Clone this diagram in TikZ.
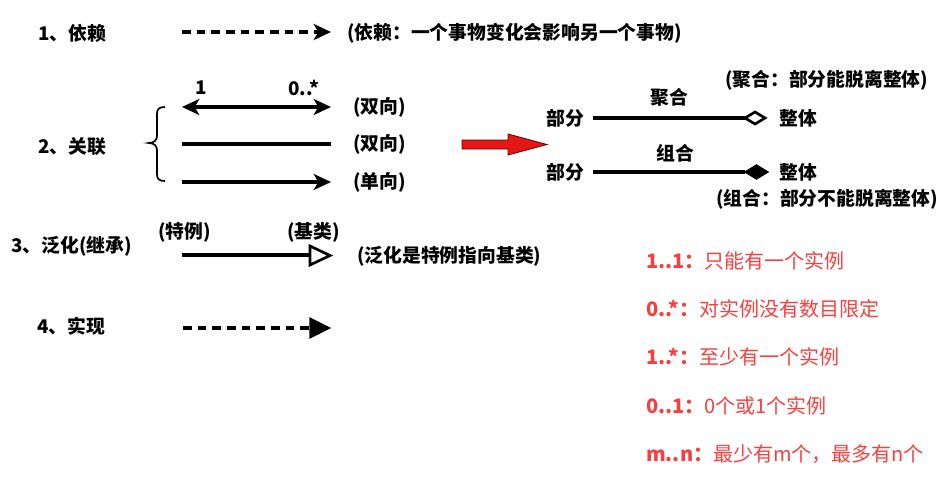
\documentclass[tikz,border=0pt]{standalone}
\usepackage{fontspec}
\setmainfont{Noto Sans CJK SC}
\usetikzlibrary{arrows.meta}
\definecolor{redtxt}{RGB}{250,62,62}
\definecolor{redfill}{RGB}{228,22,22}
\begin{document}
\begin{tikzpicture}[x=0.75pt,y=-0.75pt,
  lbl/.style={inner sep=0pt,anchor=west,font=\fontsize{14.1}{16}\selectfont\bfseries},
  redlbl/.style={inner sep=0pt,anchor=west,text=redtxt,font=\fontsize{15}{18}\selectfont},
  conn/.style={line width=2.4pt,black},
  dashconn/.style={conn,dash pattern=on 6.5pt off 4.5pt},
  tip/.style={-{Stealth[length=13pt,width=12pt,inset=3.5pt]}},
  bitip/.style={{Stealth[length=13pt,width=12pt,inset=3.5pt]}-{Stealth[length=13pt,width=12pt,inset=3.5pt]}}
]
\useasboundingbox (0,0) rectangle (939,476);

% 1 dependency
\node[lbl] (t1) at (38,33) {1、依赖};
\coordinate (d1a) at (182,32);
\coordinate (d1b) at (331,32);
\draw[dashconn,tip] (d1a) -- (d1b);
\node[lbl] (t1d) at (347,33) {(依赖：一个事物变化会影响另一个事物)};

% 2 association
\node[lbl] (t2) at (38,146) {2、关联};
\draw[line width=1.3pt] (165,107) .. controls (159,107) and (157,109) .. (157,114) -- (157,136) .. controls (157,140) and (154,143) .. (149,143) .. controls (154,143) and (157,146) .. (157,150) -- (157,174) .. controls (157,179) and (159,181) .. (165,181);
\node[lbl] (m1) at (195,88) {1};
\node[lbl] (m2) at (288,88) {0..*};
\coordinate (a1a) at (182,107);
\coordinate (a1b) at (331,107);
\draw[conn,bitip] (a1a) -- (a1b);
\node[lbl] (a1t) at (353,107) {(双向)};
\coordinate (a2a) at (182,144);
\coordinate (a2b) at (331,144);
\draw[conn] (a2a) -- (a2b);
\node[lbl] (a2t) at (353,144) {(双向)};
\coordinate (a3a) at (182,182);
\coordinate (a3b) at (331,182);
\draw[conn,tip] (a3a) -- (a3b);
\node[lbl] (a3t) at (353,182) {(单向)};

% red block arrow
\draw[fill=redfill,draw=black!60!red,line width=0.6pt] (462,140) -- (508,140) -- (508,134) -- (547,144.5) -- (508,155) -- (508,149) -- (462,149) -- cycle;

% aggregation / composition
\node[lbl] (ag) at (650,97) {聚合};
\node[lbl] (agd) at (725,80) {(聚合：部分能脱离整体)};
\node[lbl] (p1) at (546,118) {部分};
\node[lbl] (w1) at (779,118) {整体};
\coordinate (g1a) at (593,118);
\coordinate (g1b) at (745,118);
\draw[conn] (g1a) -- (g1b);
\draw[line width=2pt,fill=white] (745,118) -- (755,112) -- (765,118) -- (755,124) -- cycle;
\node[lbl] (cp) at (656,153) {组合};
\node[lbl] (p2) at (546,172) {部分};
\node[lbl] (w2) at (779,172) {整体};
\coordinate (g2a) at (593,172);
\coordinate (g2b) at (745,172);
\draw[conn] (g2a) -- (g2b);
\draw[line width=1pt,fill=black] (745,172) -- (756.5,165) -- (768,172) -- (756.5,179) -- cycle;
\node[lbl] (cpd) at (716,199) {(组合：部分不能脱离整体)};

% 3 generalization
\node[lbl] (t3) at (11,246) {3、泛化(继承)};
\node[lbl] (sp) at (158,232) {(特例)};
\node[lbl] (bs) at (287,232) {(基类)};
\coordinate (gna) at (182,255);
\coordinate (gnb) at (310,255);
\draw[conn] (gna) -- (gnb);
\draw[line width=2pt,fill=white] (310,246) -- (330,255.5) -- (310,265) -- cycle;
\node[lbl] (gnd) at (357,256) {(泛化是特例指向基类)};

% 4 realization
\node[lbl] (t4) at (37,326) {4、实现};
\coordinate (rza) at (183,328);
\coordinate (rzb) at (310,328);
\draw[dashconn] (rza) -- (rzb);
\draw[fill=black,line width=0.8pt] (310,318) -- (330,328) -- (310,338) -- cycle;

% multiplicities
\node[redlbl] (r1) at (646,261) {\textbf{1..1：}只能有一个实例};
\node[redlbl] (r2) at (646,309) {\textbf{0..*：}对实例没有数目限定};
\node[redlbl] (r3) at (646,357) {\textbf{1..*：}至少有一个实例};
\node[redlbl] (r4) at (646,406) {\textbf{0..1：}0个或1个实例};
\node[redlbl] (r5) at (646,454) {\textbf{m..n：}最少有m个，最多有n个};
\end{tikzpicture}
\end{document}
